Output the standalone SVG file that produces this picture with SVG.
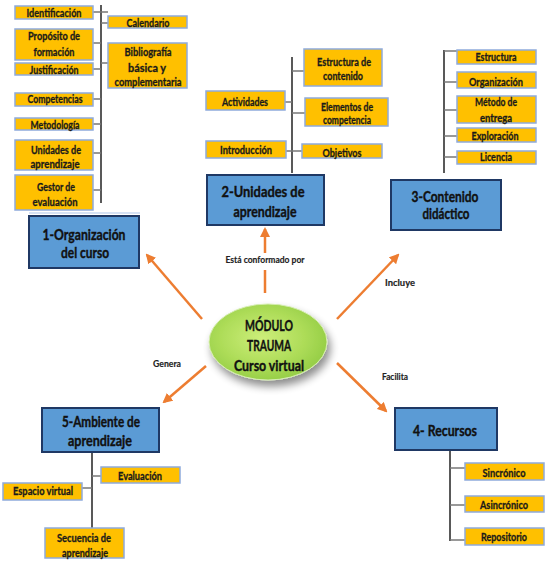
<svg xmlns="http://www.w3.org/2000/svg" width="548" height="567" viewBox="0 0 548 567">
<style>
.y{fill:#FFC000;stroke:#8FAADC;stroke-width:1.5}
.b{fill:#5B9BD5;stroke:#1F3864;stroke-width:2}
.t{font-family:Lato,"Liberation Sans",sans-serif;font-weight:bold;font-size:11.5px;fill:#1a1a1a;stroke:#1a1a1a;stroke-width:0.3;text-anchor:middle}
.h{font-family:Lato,"Liberation Sans",sans-serif;font-weight:bold;font-size:15px;fill:#111;stroke:#111;stroke-width:0.4;text-anchor:middle}
.c{font-family:Lato,"Liberation Sans",sans-serif;font-weight:bold;font-size:15.5px;fill:#111;stroke:#111;stroke-width:0.4;text-anchor:middle}
.l{font-family:Lato,"Liberation Sans",sans-serif;font-weight:bold;font-size:9px;fill:#222;stroke:#222;stroke-width:0.15;text-anchor:middle}
.v{stroke:#222;stroke-width:1.5;fill:none}
.k{stroke:#777;stroke-width:1.5;fill:none}
.a{stroke:#ED7D31;stroke-width:2.5;fill:none}
</style>
<defs>
<marker id="ah" viewBox="0 0 10 10" refX="8" refY="5" markerWidth="4" markerHeight="4" orient="auto" markerUnits="strokeWidth">
<path d="M0,0 L10,5 L0,10 z" fill="#ED7D31"/>
</marker>
<radialGradient id="g" cx="0.45" cy="0.45" r="0.6">
<stop offset="0" stop-color="#CDEE7A"/>
<stop offset="0.6" stop-color="#ADDC58"/>
<stop offset="1" stop-color="#92CC44"/>
</radialGradient>
<filter id="sh" x="-30%" y="-30%" width="160%" height="170%">
<feGaussianBlur in="SourceAlpha" stdDeviation="4"/>
<feOffset dx="3" dy="6" result="o"/>
<feComponentTransfer><feFuncA type="linear" slope="0.45"/></feComponentTransfer>
<feMerge><feMergeNode/><feMergeNode in="SourceGraphic"/></feMerge>
</filter>
</defs>
<rect width="548" height="567" fill="#fff"/>

<g id="connectors">
<line class="v" x1="101" y1="5" x2="101" y2="203"/>
<line class="k" x1="93" y1="12" x2="108" y2="12"/>
<line class="k" x1="93" y1="43" x2="101" y2="43"/>
<line class="k" x1="93" y1="69" x2="101" y2="69"/>
<line class="k" x1="93" y1="99" x2="101" y2="99"/>
<line class="k" x1="93" y1="124" x2="101" y2="124"/>
<line class="k" x1="93" y1="153" x2="101" y2="153"/>
<line class="k" x1="93" y1="190" x2="101" y2="190"/>
<line class="k" x1="101" y1="23" x2="108" y2="23"/>
<line class="k" x1="101" y1="63" x2="108" y2="63"/>

<line class="v" x1="292" y1="57" x2="292" y2="173"/>
<line class="k" x1="292" y1="71" x2="304" y2="71"/>
<line class="k" x1="285" y1="102" x2="292" y2="102"/>
<line class="k" x1="292" y1="113" x2="305" y2="113"/>
<line class="k" x1="286" y1="151" x2="302" y2="151"/>

<line class="v" x1="444" y1="50" x2="444" y2="173"/>
<line class="k" x1="444" y1="51" x2="457" y2="51"/>
<line class="k" x1="444" y1="82" x2="457" y2="82"/>
<line class="k" x1="444" y1="110" x2="457" y2="110"/>
<line class="k" x1="444" y1="136" x2="457" y2="136"/>
<line class="k" x1="444" y1="157" x2="457" y2="157"/>

<line class="v" x1="92" y1="452" x2="92" y2="528"/>
<line class="k" x1="92" y1="476" x2="101" y2="476"/>
<line class="k" x1="82" y1="488" x2="92" y2="488"/>

<line class="v" x1="450" y1="450" x2="450" y2="541"/>
<line class="k" x1="450" y1="468" x2="465" y2="468"/>
<line class="k" x1="450" y1="505" x2="465" y2="505"/>
<line class="k" x1="450" y1="540" x2="465" y2="540"/>

<line class="a" x1="202" y1="319" x2="147" y2="255" marker-end="url(#ah)"/>
<line class="a" x1="265" y1="293" x2="265" y2="270"/>
<line class="a" x1="265" y1="253" x2="265" y2="229" marker-end="url(#ah)"/>
<line class="a" x1="337" y1="319" x2="398" y2="255" marker-end="url(#ah)"/>
<line class="a" x1="337" y1="363" x2="386" y2="411" marker-end="url(#ah)"/>
<line class="a" x1="206" y1="366" x2="164" y2="402" marker-end="url(#ah)"/>
<text class="l" x="265" y="263" textLength="79" lengthAdjust="spacingAndGlyphs">Está conformado por</text>
<text class="l" x="400" y="286" textLength="30" lengthAdjust="spacingAndGlyphs">Incluye</text>
<text class="l" x="167" y="367" textLength="28" lengthAdjust="spacingAndGlyphs">Genera</text>
<text class="l" x="395" y="380" textLength="26" lengthAdjust="spacingAndGlyphs">Facilita</text>
</g>

<g id="identificacion"><rect class="y" x="15" y="6" width="78" height="13"/><text class="t" x="54" y="17" textLength="55" lengthAdjust="spacingAndGlyphs">Identificación</text></g>
<g id="proposito"><rect class="y" x="15" y="29" width="78" height="31"/><text class="t" x="54" y="40" textLength="52" lengthAdjust="spacingAndGlyphs">Propósito de</text><text class="t" x="54" y="56" textLength="41" lengthAdjust="spacingAndGlyphs">formación</text></g>
<g id="justificacion"><rect class="y" x="15" y="63" width="78" height="12"/><text class="t" x="54" y="74" textLength="49" lengthAdjust="spacingAndGlyphs">Justificación</text></g>
<g id="competencias"><rect class="y" x="15" y="93" width="78" height="13"/><text class="t" x="55" y="103" textLength="55" lengthAdjust="spacingAndGlyphs">Competencias</text></g>
<g id="metodologia"><rect class="y" x="15" y="118" width="78" height="12"/><text class="t" x="55" y="129" textLength="49" lengthAdjust="spacingAndGlyphs">Metodología</text></g>
<g id="unidades"><rect class="y" x="15" y="140" width="78" height="30"/><text class="t" x="56" y="154" textLength="50" lengthAdjust="spacingAndGlyphs">Unidades de</text><text class="t" x="55" y="168" textLength="49" lengthAdjust="spacingAndGlyphs">aprendizaje</text></g>
<g id="gestor"><rect class="y" x="15" y="175" width="78" height="35"/><text class="t" x="56" y="191" textLength="38" lengthAdjust="spacingAndGlyphs">Gestor de</text><text class="t" x="55" y="206" textLength="45" lengthAdjust="spacingAndGlyphs">evaluación</text></g>
<g id="calendario"><rect class="y" x="108" y="16" width="79" height="12"/><text class="t" x="148" y="27" textLength="43" lengthAdjust="spacingAndGlyphs">Calendario</text></g>
<g id="bibliografia"><rect class="y" x="108" y="43" width="79" height="45"/><text class="t" x="148" y="56" textLength="47" lengthAdjust="spacingAndGlyphs">Bibliografía</text><text class="t" x="147" y="72" textLength="38" lengthAdjust="spacingAndGlyphs">básica y</text><text class="t" x="148" y="86" textLength="67" lengthAdjust="spacingAndGlyphs">complementaria</text></g>

<g id="org"><line x1="29" y1="213" x2="140" y2="213" stroke="#C9D9F0" stroke-width="1.5"/><rect class="b" x="29" y="216" width="110" height="52"/><text class="h" x="84" y="240" textLength="83" lengthAdjust="spacingAndGlyphs">1-Organización</text><text class="h" x="85" y="258" textLength="48" lengthAdjust="spacingAndGlyphs">del curso</text></g>

<g id="estructura-contenido"><rect class="y" x="304" y="49" width="78" height="37"/><text class="t" x="344" y="66" textLength="54" lengthAdjust="spacingAndGlyphs">Estructura de</text><text class="t" x="343" y="80" textLength="40" lengthAdjust="spacingAndGlyphs">contenido</text></g>
<g id="actividades"><rect class="y" x="206" y="91" width="79" height="19"/><text class="t" x="245" y="106" textLength="46" lengthAdjust="spacingAndGlyphs">Actividades</text></g>
<g id="elementos"><rect class="y" x="305" y="98" width="83" height="28"/><text class="t" x="347" y="111" textLength="52" lengthAdjust="spacingAndGlyphs">Elementos de</text><text class="t" x="347" y="124" textLength="48" lengthAdjust="spacingAndGlyphs">competencia</text></g>
<g id="introduccion"><rect class="y" x="206" y="141" width="80" height="17"/><text class="t" x="246" y="154" textLength="52" lengthAdjust="spacingAndGlyphs">Introducción</text></g>
<g id="objetivos"><rect class="y" x="302" y="144" width="80" height="14"/><text class="t" x="342" y="157" textLength="39" lengthAdjust="spacingAndGlyphs">Objetivos</text></g>
<g id="unidades-aprendizaje"><rect class="b" x="207" y="175" width="117" height="50"/><text class="h" x="263" y="197" textLength="83" lengthAdjust="spacingAndGlyphs">2-Unidades de</text><text class="h" x="265" y="217" textLength="63" lengthAdjust="spacingAndGlyphs">aprendizaje</text></g>

<g id="estructura"><rect class="y" x="457" y="50" width="79" height="14"/><text class="t" x="496" y="61" textLength="41" lengthAdjust="spacingAndGlyphs">Estructura</text></g>
<g id="organizacion"><rect class="y" x="457" y="72" width="79" height="16"/><text class="t" x="496" y="86" textLength="54" lengthAdjust="spacingAndGlyphs">Organización</text></g>
<g id="metodo"><rect class="y" x="457" y="96" width="79" height="27"/><text class="t" x="496" y="106" textLength="42" lengthAdjust="spacingAndGlyphs">Método de</text><text class="t" x="496" y="122" textLength="32" lengthAdjust="spacingAndGlyphs">entrega</text></g>
<g id="exploracion"><rect class="y" x="457" y="128" width="79" height="14"/><text class="t" x="495" y="140" textLength="47" lengthAdjust="spacingAndGlyphs">Exploración</text></g>
<g id="licencia"><rect class="y" x="457" y="151" width="79" height="13"/><text class="t" x="496" y="161" textLength="32" lengthAdjust="spacingAndGlyphs">Licencia</text></g>
<g id="contenido"><rect class="b" x="391" y="180" width="110" height="50"/><text class="h" x="445" y="202" textLength="67" lengthAdjust="spacingAndGlyphs">3-Contenido</text><text class="h" x="446" y="219" textLength="47" lengthAdjust="spacingAndGlyphs">didáctico</text></g>

<g id="modulo"><ellipse cx="268" cy="342" rx="59" ry="38" fill="url(#g)" stroke="#D5EDB0" stroke-width="1" filter="url(#sh)"/><text class="c" x="269" y="331" textLength="48" lengthAdjust="spacingAndGlyphs">MÓDULO</text><text class="c" x="269" y="351" textLength="44" lengthAdjust="spacingAndGlyphs">TRAUMA</text><text class="c" x="269" y="371" textLength="70" lengthAdjust="spacingAndGlyphs">Curso virtual</text></g>

<g id="ambiente"><rect class="b" x="42" y="408" width="117" height="44"/><text class="h" x="101" y="427" textLength="78" lengthAdjust="spacingAndGlyphs">5-Ambiente de</text><text class="h" x="100" y="446" textLength="64" lengthAdjust="spacingAndGlyphs">aprendizaje</text></g>
<g id="evaluacion"><rect class="y" x="101" y="467" width="79" height="16"/><text class="t" x="140" y="480" textLength="44" lengthAdjust="spacingAndGlyphs">Evaluación</text></g>
<g id="espacio"><rect class="y" x="3" y="483" width="79" height="17"/><text class="t" x="43" y="495" textLength="60" lengthAdjust="spacingAndGlyphs">Espacio virtual</text></g>
<g id="secuencia"><rect class="y" x="45" y="528" width="79" height="30"/><text class="t" x="84" y="542" textLength="54" lengthAdjust="spacingAndGlyphs">Secuencia de</text><text class="t" x="85" y="557" textLength="46" lengthAdjust="spacingAndGlyphs">aprendizaje</text></g>

<g id="recursos"><rect class="b" x="395" y="408" width="102" height="42"/><text class="h" x="445" y="436" textLength="64" lengthAdjust="spacingAndGlyphs">4- Recursos</text></g>
<g id="sincronico"><rect class="y" x="465" y="463" width="79" height="17"/><text class="t" x="504" y="477" textLength="43" lengthAdjust="spacingAndGlyphs">Sincrónico</text></g>
<g id="asincronico"><rect class="y" x="465" y="496" width="79" height="16"/><text class="t" x="504" y="509" textLength="48" lengthAdjust="spacingAndGlyphs">Asincrónico</text></g>
<g id="repositorio"><rect class="y" x="465" y="528" width="79" height="17"/><text class="t" x="504" y="541" textLength="46" lengthAdjust="spacingAndGlyphs">Repositorio</text></g>
</svg>
